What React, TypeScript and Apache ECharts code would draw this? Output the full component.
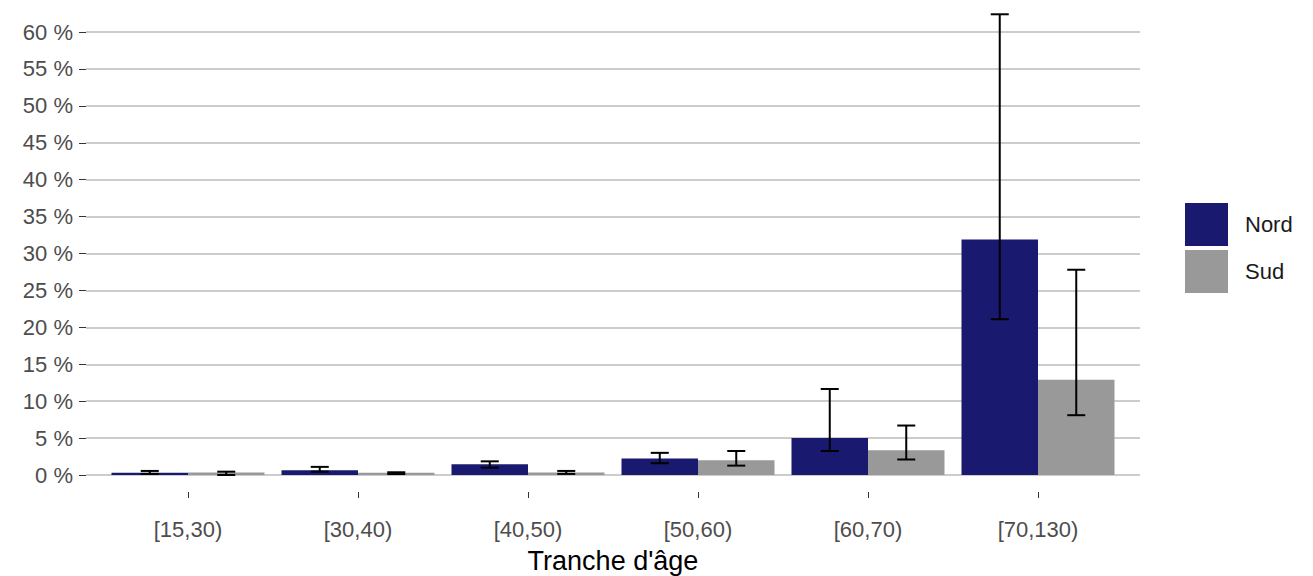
import React, { useEffect, useRef } from "react";
import * as echarts from "echarts";

const categories = ["[15,30)", "[30,40)", "[40,50)", "[50,60)", "[60,70)", "[70,130)"];
const nordValues = [0.3, 0.63, 1.45, 2.25, 5.0, 31.9];
const nordLow = [0.15, 0.45, 1.0, 1.6, 3.25, 21.1];
const nordHigh = [0.55, 1.1, 1.85, 3.0, 11.65, 62.4];
const sudValues = [0.35, 0.3, 0.35, 2.0, 3.35, 12.9];
const sudLow = [0.0, 0.13, 0.15, 1.27, 2.1, 8.1];
const sudHigh = [0.45, 0.37, 0.55, 3.25, 6.7, 27.8];
const yTicks = { min: 0, max: 60, interval: 5 };
const seriesNames = ["Nord", "Sud"];
const colors = ["#191970", "#999999"];

const FONT = "'Liberation Sans', Arial, sans-serif";

export default function App() {
  const ref = useRef<HTMLDivElement>(null);
  useEffect(() => {
    if (!ref.current) return;
    const chart = echarts.init(ref.current, null, { renderer: "svg" });
    const errData: number[][] = [];
    categories.forEach((_, i) => {
      errData.push([i, nordLow[i], nordHigh[i], 0]);
      errData.push([i, sudLow[i], sudHigh[i], 1]);
    });
    const tickData: number[][] = categories.map((_, i) => [i, 0]);
    const option: any = {
      animation: false,
      backgroundColor: "#ffffff",
      textStyle: { fontFamily: FONT },
      grid: [
        { left: 86, right: 173, top: 32, bottom: 101, outerBoundsMode: "none", containLabel: false },
        { left: 103, right: 190, top: 32, bottom: 101, outerBoundsMode: "none", containLabel: false },
      ],
      xAxis: [
        { type: "value", gridIndex: 0, show: false, min: 0, max: 1 },
        {
          type: "category",
          gridIndex: 1,
          data: categories,
          offset: 16,
          axisLine: { show: false },
          axisTick: { show: false },
          axisLabel: { color: "#4d4d4d", fontSize: 22, fontFamily: FONT, margin: 27 },
          splitLine: { show: false },
          name: "Tranche d'âge",
          nameLocation: "middle",
          nameGap: 56,
          nameTextStyle: { color: "#000000", fontSize: 27, fontFamily: FONT },
        },
      ],
      yAxis: [
        {
          type: "value",
          gridIndex: 0,
          min: yTicks.min,
          max: yTicks.max,
          interval: yTicks.interval,
          axisLine: { show: false },
          axisTick: { show: true, length: 7, lineStyle: { color: "#333333", width: 1 } },
          axisLabel: {
            color: "#4d4d4d",
            fontSize: 22,
            fontFamily: FONT,
            margin: 13,
            formatter: (v: number) => `${v} %`,
          },
          splitLine: { show: true, lineStyle: { color: "#cccccc", width: 2 } },
        },
        { type: "value", gridIndex: 1, min: yTicks.min, max: yTicks.max, show: false, splitLine: { show: false } },
      ],
      legend: {
        data: seriesNames,
        orient: "vertical",
        left: 1185,
        top: 203,
        padding: 0,
        itemWidth: 43,
        itemHeight: 43,
        itemGap: 4,
        icon: "rect",
        textStyle: { color: "#1a1a1a", fontSize: 22, fontFamily: FONT, padding: [0, 0, 0, 12] },
      },
      series: [
        {
          name: seriesNames[0],
          type: "bar",
          xAxisIndex: 1,
          yAxisIndex: 1,
          data: nordValues,
          barGap: "0%",
          barCategoryGap: "10%",
          itemStyle: { color: colors[0] },
        },
        {
          name: seriesNames[1],
          type: "bar",
          xAxisIndex: 1,
          yAxisIndex: 1,
          data: sudValues,
          barGap: "0%",
          barCategoryGap: "10%",
          itemStyle: { color: colors[1] },
        },
        {
          type: "custom",
          xAxisIndex: 1,
          yAxisIndex: 1,
          clip: false,
          silent: true,
          z: 10,
          encode: { x: 0, y: [1, 2] },
          data: errData,
          renderItem: (params: any, api: any) => {
            const i = api.value(0);
            const lo = api.value(1);
            const hi = api.value(2);
            const s = api.value(3);
            const band = api.size([1, 0])[0];
            const pLo = api.coord([i, lo]);
            const pHi = api.coord([i, hi]);
            const x = pLo[0] + (s === 0 ? -0.225 : 0.225) * band;
            const half = 0.053 * band;
            const style = { stroke: "#000000", lineWidth: 2 };
            return {
              type: "group",
              children: [
                { type: "line", shape: { x1: x, y1: pLo[1], x2: x, y2: pHi[1] }, style },
                { type: "line", shape: { x1: x - half, y1: pLo[1], x2: x + half, y2: pLo[1] }, style },
                { type: "line", shape: { x1: x - half, y1: pHi[1], x2: x + half, y2: pHi[1] }, style },
              ],
            };
          },
        },
        {
          type: "custom",
          xAxisIndex: 1,
          yAxisIndex: 1,
          clip: false,
          silent: true,
          encode: { x: 0, y: 1 },
          data: tickData,
          renderItem: (params: any, api: any) => {
            const p = api.coord([api.value(0), api.value(1)]);
            const x = Math.round(p[0]) + 0.5;
            return {
              type: "line",
              shape: { x1: x, y1: p[1] + 17, x2: x, y2: p[1] + 23 },
              style: { stroke: "#333333", lineWidth: 1 },
            };
          },
        },
      ],
    };
    chart.setOption(option);
    return () => chart.dispose();
  }, []);
  return (
    <div
      ref={ref}
      style={{ position: "fixed", left: 0, top: 0, width: 1313, height: 576, background: "#ffffff" }}
    />
  );
}
